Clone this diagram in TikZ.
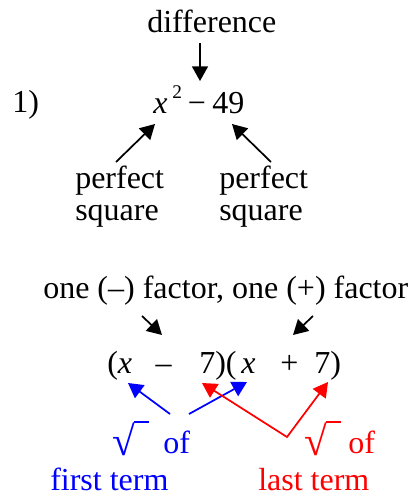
\documentclass[tikz,border=0pt]{standalone}
\usepackage{fontspec}
\setmainfont{Liberation Serif}
\usetikzlibrary{arrows.meta,positioning}
\tikzset{
  >={Triangle[length=11pt,width=12pt]},
  txt/.style={font=\fontsize{24}{24}\selectfont, inner sep=0pt, anchor=base west},
  ctxt/.style={txt, anchor=base},
  supr/.style={font=\fontsize{14.5}{14.5}\selectfont, inner sep=0pt, anchor=base west},
  rad/.style={font=\fontsize{31}{31}\selectfont, inner sep=0pt, anchor=base west},
  arr/.style={->, line width=1.3pt},
  bar/.style={line width=1.1pt},
}
\begin{document}
\begin{tikzpicture}[x=0.75pt, y=-0.75pt]
\useasboundingbox (0,0) rectangle (413,496);
% problem line
\node[txt] (diff) at (147,32) {difference};
\node[txt] (num) at (12,112) {1)};
\node[txt] (xsq) at (153,113) {\textit{x}};
\node[supr] (two) at (172,98) {2};
\node[ctxt] (minus) at (197,113) {−};
\node[txt] (fortynine) at (212,113) {49};
\node[txt] (perfL) at (75,188) {perfect};
\node[txt] (sqL) at (75,220) {square};
\node[txt] (perfR) at (219,188) {perfect};
\node[txt] (sqR) at (219,220) {square};
\coordinate (diffEnd) at (200,43);
\coordinate (diffTip) at (200,81);
\coordinate (psLEnd) at (116,162);
\coordinate (psLTip) at (155,124);
\coordinate (psREnd) at (271,162);
\coordinate (psRTip) at (232,124);
\draw[arr] (diffEnd) -- (diffTip);
\draw[arr] (psLEnd) -- (psLTip);
\draw[arr] (psREnd) -- (psRTip);
% factored line
\node[txt] (signs) at (43,298) {one (–) factor, one (+) factor};
\node[txt] (opA) at (107,373) {(\textit{x}};
\node[ctxt] (negsign) at (163.5,373) {–};
\node[txt] (sevA) at (199,373) {7)(};
\node[txt] (xB) at (241,373) {\textit{x}};
\node[ctxt] (possign) at (289.5,373) {+};
\node[txt] (sevB) at (314,373) {7)};
\coordinate (negEnd) at (142,316);
\coordinate (negTip) at (162,335);
\coordinate (posEnd) at (313,316);
\coordinate (posTip) at (293,335);
\draw[arr] (negEnd) -- (negTip);
\draw[arr] (posEnd) -- (posTip);
% roots
\node[rad, text=blue] (rootF) at (112,455) {√};
\node[txt, text=blue] (ofF) at (163,453) {of};
\node[txt, text=blue] (first) at (50,490) {first term};
\node[rad, text=red] (rootL) at (304,455) {√};
\node[txt, text=red] (ofL) at (348,453) {of};
\node[txt, text=red] (last) at (258,490) {last term};
\draw[bar, blue] ([xshift=-0.6pt]rootF.north east) -- ++(15,0);
\draw[bar, red] ([xshift=-0.6pt]rootL.north east) -- ++(15,0);
\coordinate (frEndA) at (170,414);
\coordinate (frTipA) at (128,383);
\coordinate (frEndB) at (189,414);
\coordinate (frTipB) at (247,382);
\coordinate (lsTipA) at (202,383);
\coordinate (lsVert) at (287,437);
\coordinate (lsTipB) at (328,382);
\draw[arr, blue] (frEndA) -- (frTipA);
\draw[arr, blue] (frEndB) -- (frTipB);
\draw[arr, red, <->] (lsTipA) -- (lsVert) -- (lsTipB);
\end{tikzpicture}
\end{document}
